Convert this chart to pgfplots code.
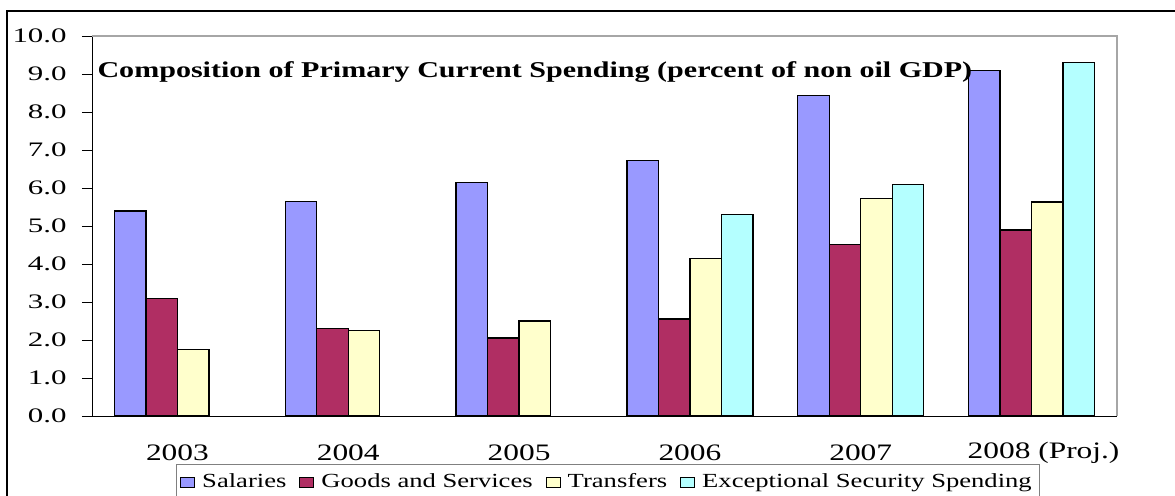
\documentclass[border=0pt]{standalone}
\usepackage{fontspec}
\setmainfont[FakeStretch=1.33]{Liberation Serif}
\newfontfamily\yfont[FakeStretch=1.5]{Liberation Serif}
\usepackage{pgfplots}
\pgfplotsset{compat=1.18}
\definecolor{sal}{RGB}{153,153,255}
\definecolor{goods}{RGB}{176,46,99}
\definecolor{trans}{RGB}{255,255,204}
\definecolor{exc}{RGB}{180,255,255}
\begin{document}
\begin{tikzpicture}[x=1pt,y=1pt]
\useasboundingbox (0,0) rectangle (587.5,247.5);
\draw[line width=0.8pt] (3.5,-10) rectangle (600,242);
\begin{axis}[
  at={(46pt,39.5pt)}, anchor=south west,
  scale only axis, width=512.5pt, height=190pt,
  ybar=0pt, bar width=15.75pt,
  xmin=-0.5, xmax=5.5, ymin=0, ymax=10,
  xtick={0,1,2,3,4,5},
  xticklabels={2003,2004,2005,2006,2007,\hspace*{12pt}2008 (Proj.)},
  xtick style={draw=none},
  extra x ticks={-0.5,0.5,1.5,2.5,3.5,4.5,5.5},
  extra x tick labels={},
  extra x tick style={major tick length=4pt, tick align=outside, tick style={draw=black, thin}},
  ytick={0,1,...,10},
  tick align=outside,
  major tick length=5pt,
  y tick style={black, thin},
  axis x line*=bottom, axis y line*=left,
  axis line style={black, thin},
  /pgf/number format/assume math mode=true,
  /pgf/number format/.cd, fixed, fixed zerofill, precision=1,
  /pgfplots/.cd,
  yticklabel style={font=\yfont\fontsize{10.3}{12}\selectfont, anchor=east, inner sep=1pt, xshift=-6.5pt},
  xticklabel style={font=\fontsize{11.8}{13}\selectfont, anchor=center, yshift=-13.5pt},
  legend style={at={(0.5034,-0.127)}, anchor=north, legend columns=-1,
    draw=gray, line width=0.6pt, font=\fontsize{10}{12}\selectfont,
    inner ysep=2.5pt, inner xsep=2pt,
    /tikz/every odd column/.append style={column sep=1.5pt},
    /tikz/every even column/.append style={column sep=4.5pt}},
  legend image code/.code={\draw[#1, draw=black, line width=0.5pt] (0pt,-2.6pt) rectangle (7pt,2.6pt);},
  every axis plot/.append style={draw=black, line width=0.7pt},
  clip=false,
]
\addplot[fill=sal] coordinates {(0,5.4) (1,5.65) (2,6.15) (3,6.72) (4,8.43) (5,9.1)};
\addplot[fill=goods] coordinates {(0,3.1) (1,2.3) (2,2.05) (3,2.55) (4,4.52) (5,4.9)};
\addplot[fill=trans] coordinates {(0,1.75) (1,2.25) (2,2.5) (3,4.15) (4,5.73) (5,5.63)};
\addplot[fill=exc] coordinates {(3,5.3) (4,6.1) (5,9.3)};
\legend{Salaries, Goods and Services, Transfers, Exceptional Security Spending}
\draw[gray!70, line width=0.8pt] (rel axis cs:0,1) -- (rel axis cs:1,1) -- (rel axis cs:1,0);
\node[anchor=west, font=\bfseries\fontsize{11.3}{12}\selectfont, inner sep=0pt] at (axis description cs:0.005,0.905) {Composition of Primary Current Spending (percent of non oil GDP)};
\end{axis}
\end{tikzpicture}
\end{document}
